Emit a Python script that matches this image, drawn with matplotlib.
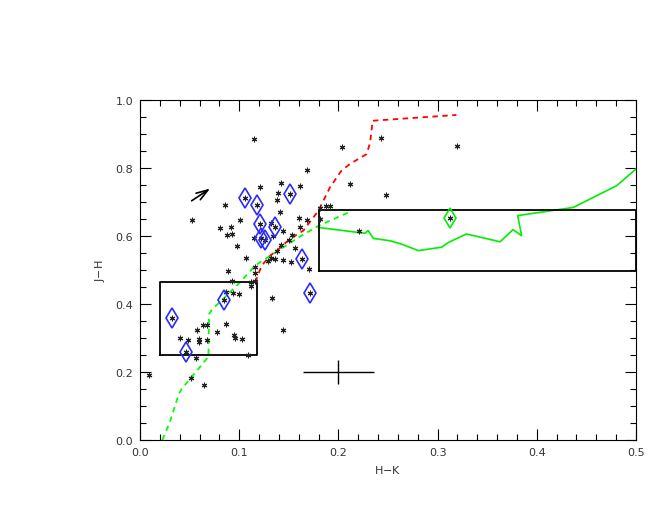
import matplotlib
matplotlib.use('Agg')
import matplotlib.pyplot as plt
from matplotlib.ticker import MultipleLocator

# field stars (H-K, J-H)
star_hk = [0.115, 0.168, 0.142, 0.121, 0.161, 0.139, 0.138, 0.086, 0.141, 0.052,
           0.101, 0.160, 0.168, 0.132, 0.081, 0.092, 0.161, 0.181, 0.188, 0.192,
           0.088, 0.093, 0.144, 0.153, 0.134, 0.115, 0.0975, 0.142, 0.1505, 0.156,
           0.138, 0.132, 0.136, 0.129, 0.1065, 0.1445, 0.1525, 0.170, 0.089, 0.116,
           0.116, 0.0924, 0.1116, 0.116, 0.1116, 0.087, 0.0934, 0.0995, 0.1334, 0.087,
           0.0635, 0.0675, 0.057, 0.0776, 0.1445, 0.0403, 0.048, 0.0595, 0.0595, 0.068,
           0.0945, 0.0958, 0.1025, 0.109, 0.056, 0.0094, 0.0514, 0.0645, 0.2036, 0.2433,
           0.3196, 0.2114, 0.2477, 0.1818, 0.221]
star_jh = [0.886, 0.795, 0.756, 0.744, 0.747, 0.726, 0.707, 0.691, 0.671, 0.648,
           0.648, 0.654, 0.648, 0.639, 0.623, 0.626, 0.626, 0.683, 0.689, 0.689,
           0.603, 0.607, 0.614, 0.603, 0.600, 0.593, 0.570, 0.574, 0.587, 0.566,
           0.557, 0.534, 0.532, 0.526, 0.534, 0.528, 0.524, 0.503, 0.498, 0.509,
           0.491, 0.469, 0.464, 0.468, 0.452, 0.434, 0.433, 0.430, 0.418, 0.340,
           0.339, 0.339, 0.3235, 0.318, 0.3226, 0.299, 0.293, 0.296, 0.287, 0.293,
           0.308, 0.299, 0.297, 0.250, 0.241, 0.192, 0.181, 0.163, 0.863, 0.887,
           0.864, 0.753, 0.7216, 0.649, 0.614]

# marked sources (blue diamonds)
blue_hk = [0.1055, 0.118, 0.1515, 0.121, 0.136, 0.122, 0.126, 0.1636, 0.171, 0.0847, 0.032, 0.0467]
blue_jh = [0.711, 0.691, 0.724, 0.636, 0.626, 0.595, 0.588, 0.533, 0.433, 0.411, 0.358, 0.258]
green_hk = [0.312]
green_jh = [0.654]

# giant branch (red dashed)
giant_hk = [0.116, 0.1227, 0.131, 0.138, 0.151, 0.1647, 0.18, 0.1915, 0.203, 0.2117, 0.2285, 0.232, 0.2345, 0.319]
giant_jh = [0.464, 0.513, 0.542, 0.557, 0.591, 0.616, 0.675, 0.743, 0.792, 0.812, 0.841, 0.875, 0.939, 0.956]

# dwarf locus (green dashed)
dwarf_hk = [0.0225, 0.030, 0.038, 0.039, 0.042, 0.069, 0.0695, 0.073, 0.087, 0.101, 0.116, 0.161, 0.18, 0.21]
dwarf_jh = [0.0, 0.052, 0.125, 0.135, 0.150, 0.245, 0.370, 0.385, 0.424, 0.464, 0.513, 0.598, 0.630, 0.669]

# green solid track
track_hk = [0.18, 0.2268, 0.230, 0.2352, 0.252, 0.2638, 0.2806, 0.304, 0.311, 0.329,
            0.363, 0.376, 0.3847, 0.3807, 0.4368, 0.4805, 0.5]
track_jh = [0.625, 0.608, 0.616, 0.593, 0.586, 0.576, 0.557, 0.567, 0.581, 0.606,
            0.583, 0.6186, 0.601, 0.660, 0.684, 0.748, 0.797]

# boxes (x0, x1, y0, y1)
box1 = (0.02, 0.118, 0.25, 0.465)
box2 = (0.18, 0.5, 0.498, 0.675)

fig = plt.figure(figsize=(6.6, 5.1), dpi=100)
ax = fig.add_axes([140/660, 1-441/510, 496/660, 340/510])

ax.plot(giant_hk, giant_jh, color='#ff0000', lw=1.3, ls=(0, (3, 2.5)))
ax.plot(dwarf_hk, dwarf_jh, color='#00ff00', lw=1.3, ls=(0, (3, 2.5)))
ax.plot(track_hk, track_jh, color='#00ee00', lw=1.2)

for b in (box1, box2):
    ax.plot([b[0], b[1], b[1], b[0], b[0]], [b[2], b[2], b[3], b[3], b[2]], color='black', lw=1.3)

ax.plot(star_hk + blue_hk + green_hk, star_jh + blue_jh + green_jh, ls='none',
        marker=(6, 2, 0), ms=4, mec='#222222', mew=0.8)
ax.plot(blue_hk, blue_jh, ls='none', marker='d', ms=10, mfc='none', mec='#2a2aff', mew=1.2)
ax.plot(green_hk, green_jh, ls='none', marker='d', ms=10, mfc='none', mec='#00ee00', mew=1.2)

# error cross
ax.errorbar([0.2], [0.2], xerr=[0.036], yerr=[0.035], color='black', lw=1.0, capsize=0)

# reddening vector
ax.annotate('', xy=(0.073, 0.744), xytext=(0.0497, 0.699),
            arrowprops=dict(arrowstyle='->, head_length=0.6, head_width=0.2',
                            color='black', lw=1.2, mutation_scale=14))

ax.set_xlim(0, 0.5)
ax.set_ylim(0, 1.0)
ax.xaxis.set_major_locator(MultipleLocator(0.1))
ax.xaxis.set_minor_locator(MultipleLocator(0.02))
ax.yaxis.set_major_locator(MultipleLocator(0.2))
ax.yaxis.set_minor_locator(MultipleLocator(0.05))
ax.xaxis.set_major_formatter(matplotlib.ticker.FormatStrFormatter('%.1f'))
ax.yaxis.set_major_formatter(matplotlib.ticker.FormatStrFormatter('%.1f'))
ax.tick_params(which='both', direction='in', top=True, right=True, width=0.8,
               labelsize=8, colors='black', labelcolor='#333333', pad=5)
ax.tick_params(which='major', length=8)
ax.tick_params(which='minor', length=4)
for s in ax.spines.values():
    s.set_linewidth(0.8)

ax.set_xlabel('H$-$K', fontsize=8, color='#333333', labelpad=4)
ax.set_ylabel('J$-$H', fontsize=8, color='#333333', labelpad=6)

fig.savefig('out.png', dpi=100)
